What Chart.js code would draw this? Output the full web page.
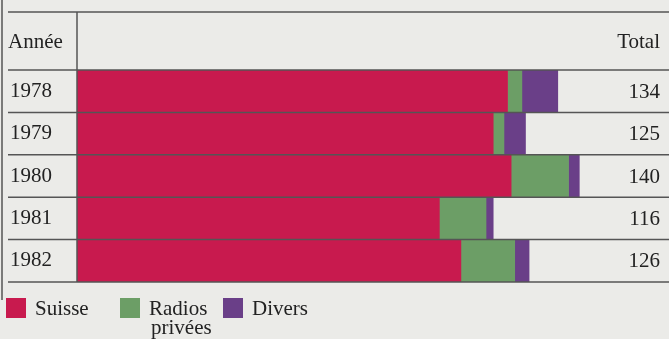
<!DOCTYPE html>
<html>
<head>
<meta charset="utf-8">
<script src="https://cdn.jsdelivr.net/npm/chart.js@4.4.1/dist/chart.umd.min.js"></script>
<style>
  html, body { margin: 0; padding: 0; background: #ebebe8; }
  #wrap { width: 669px; height: 339px; position: relative; }
</style>
</head>
<body>
<div id="wrap"><canvas id="chart" width="669" height="339"></canvas></div>
<script>
const years   = ["1978", "1979", "1980", "1981", "1982"];
const suisse  = [120, 116, 121, 101, 107];
const radios  = [4, 3, 16, 13, 15];
const divers  = [10, 6, 3, 2, 4];
const totals  = ["134", "125", "140", "116", "126"];

const COLORS = {
  suisse: "#c81a4e",
  radios: "#6c9e66",
  divers: "#6a3f88",
  line:   "#555555",
  text:   "#222222",
};
const SERIF = "'Liberation Serif', 'DejaVu Serif', serif";

// Frame, header row, row rules, totals column and the legend
const framePlugin = {
  id: "frame",
  afterDatasetsDraw(chart) {
    const ctx = chart.ctx;
    const { left, right, top, bottom } = chart.chartArea;
    const yScale = chart.scales.y;
    ctx.save();
    ctx.strokeStyle = COLORS.line;
    ctx.lineWidth = 1.5;

    // outer left border + top rule
    ctx.beginPath(); ctx.moveTo(2, 0); ctx.lineTo(2, 300); ctx.stroke();
    ctx.beginPath(); ctx.moveTo(8, 12); ctx.lineTo(669, 12); ctx.stroke();
    // column separator
    ctx.beginPath(); ctx.moveTo(left, 12); ctx.lineTo(left, bottom); ctx.stroke();

    // row rules on category boundaries
    const step = (bottom - top) / years.length;
    for (let i = 0; i <= years.length; i++) {
      const y = yScale.getPixelForValue(i) - step / 2;
      ctx.beginPath(); ctx.moveTo(8, y); ctx.lineTo(669, y); ctx.stroke();
    }

    ctx.fillStyle = COLORS.text;
    ctx.textBaseline = "middle";

    // header
    ctx.font = "21px " + SERIF;
    ctx.textAlign = "left";
    ctx.fillText("Année", 8, 42);
    ctx.textAlign = "right";
    ctx.fillText("Total", 660, 42);

    // totals column
    ctx.font = "21px " + SERIF;
    totals.forEach((t, i) => ctx.fillText(t, 660, yScale.getPixelForValue(i) + 1));

    // legend
    const items = [
      { color: COLORS.suisse, x: 6,   text: ["Suisse"] },
      { color: COLORS.radios, x: 120, text: ["Radios", "privées"] },
      { color: COLORS.divers, x: 223, text: ["Divers"] },
    ];
    ctx.textAlign = "left";
    items.forEach(it => {
      ctx.fillStyle = it.color;
      ctx.fillRect(it.x, 298, 20, 20);
      ctx.fillStyle = COLORS.text;
      it.text.forEach((t, k) => ctx.fillText(t, it.x + (k ? 31 : 29), 309 + k * 19));
    });
    ctx.restore();
  }
};

new Chart(document.getElementById("chart"), {
  type: "bar",
  data: {
    labels: years,
    datasets: [
      { label: "Suisse", data: suisse, backgroundColor: COLORS.suisse },
      { label: "Radios privées", data: radios, backgroundColor: COLORS.radios },
      { label: "Divers", data: divers, backgroundColor: COLORS.divers },
    ]
  },
  plugins: [framePlugin],
  options: {
    indexAxis: "y",
    responsive: false,
    animation: false,
    barPercentage: 1,
    categoryPercentage: 1,
    layout: { padding: { top: 70, bottom: 57, left: 10, right: 0 } },
    plugins: { legend: { display: false }, tooltip: { enabled: false } },
    scales: {
      x: { stacked: true, min: 0, max: 165, display: false },
      y: {
        stacked: true,
        position: "left",
        grid: { display: false },
        border: { display: false },
        ticks: { color: COLORS.text, font: { family: SERIF, size: 21 },
                 crossAlign: "far", padding: 0 },
        afterFit(axis) { axis.width = 67; }
      }
    }
  }
});
</script>
</body>
</html>
